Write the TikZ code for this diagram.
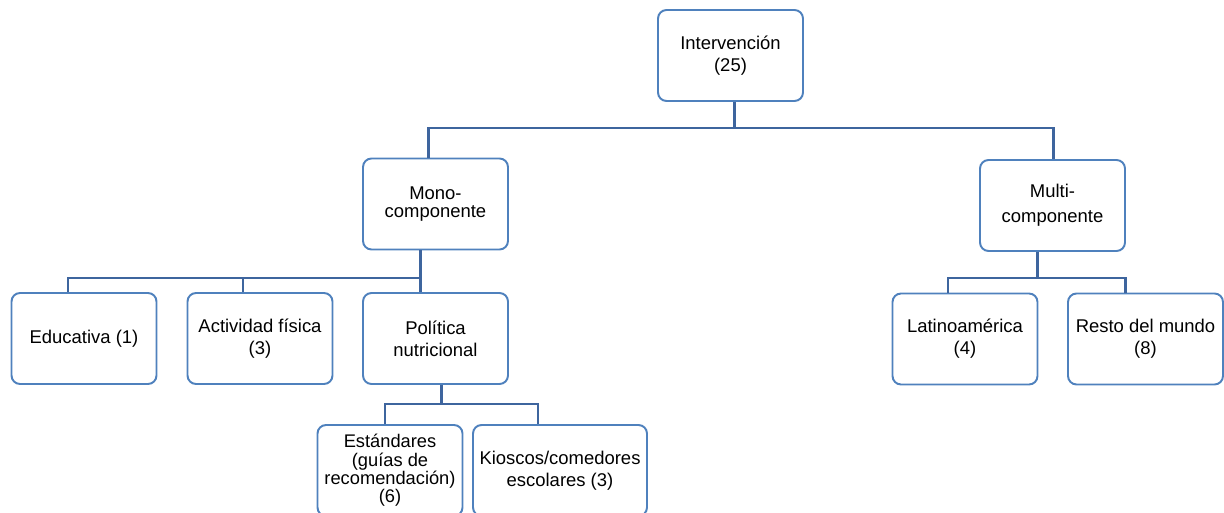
\documentclass[tikz,border=0pt]{standalone}
\usepackage{fontspec}
\setmainfont{Liberation Sans}
\definecolor{boxblue}{RGB}{79,129,189}
\definecolor{lineblue}{RGB}{62,101,158}
\usetikzlibrary{positioning}
\newcommand{\pxu}{0.02cm}

\begin{document}
\begin{tikzpicture}[x=0.02cm, y=-0.02cm,
    box/.style={draw=boxblue, line width=1.1pt, rounded corners=0.17cm, fill=white,
        minimum width=2.9cm, minimum height=1.82cm, inner sep=1pt, align=center,
        font=\fontsize{10.5}{12.5}\selectfont},
    link/.style={draw=lineblue, line width=1.4pt},
    thinlink/.style={draw=lineblue, line width=1.1pt}]
    \useasboundingbox (0,0) rectangle (1224,513);
    \clip (0,0) rectangle (1224,513);
    % boxes
    \node[box] (int) at (730.5,55.5) {Intervención\\(25)};
    \node[box, font=\fontsize{10.5}{10.4}\selectfont] (mono) at (435.5,204) {Mono-\\componente};
    \node[box, font=\fontsize{10.5}{14}\selectfont] (multi) at (1052.5,205.5) {Multi-\\componente};
    \node[box] (edu) at (84,338.5) {Educativa (1)};
    \node[box] (act) at (260,338.5) {Actividad física\\(3)};
    \node[box] (pol) at (435.5,338.5) {Política\\nutricional};
    \node[box, font=\fontsize{10.4}{10.4}\selectfont] (est) at (390,470.5) {Estándares\\(guías de\\recomendación)\\(6)};
    \node[box, minimum width=3.48cm] (kio) at (560,470.5) {Kioscos/comedores\\escolares (3)};
    \node[box] (lat) at (965,339) {Latinoamérica\\(4)};
    \node[box, minimum width=3.1cm] (res) at (1145.5,339) {Resto del mundo\\(8)};
    % connectors
    \draw[link] ([xshift=4*\pxu]int.south) -- ++(0,26) coordinate (jI);
    \draw[link] ([xshift=-7*\pxu]mono.north) |- (jI) -| ([xshift=\pxu]multi.north);
    \draw[link] ([xshift=-15*\pxu]mono.south) -- ([xshift=-15*\pxu]pol.north);
    \path ([xshift=-15*\pxu]mono.south) ++(0,28) coordinate (jM);
    \draw[thinlink] ([xshift=-16*\pxu]edu.north) |- (jM);
    \draw[thinlink] ([xshift=-17*\pxu]act.north) |- (jM);
    \draw[link] ([xshift=6*\pxu]pol.south) -- ++(0,19) coordinate (jP);
    \draw[link] ([xshift=-5*\pxu]est.north) |- (jP) -| ([xshift=-22*\pxu]kio.north);
    \draw[link] ([xshift=-15*\pxu]multi.south) -- ++(0,26) coordinate (jMu);
    \draw[link] ([xshift=-17*\pxu]lat.north) |- (jMu) -| ([xshift=-20*\pxu]res.north);
\end{tikzpicture}
\end{document}
